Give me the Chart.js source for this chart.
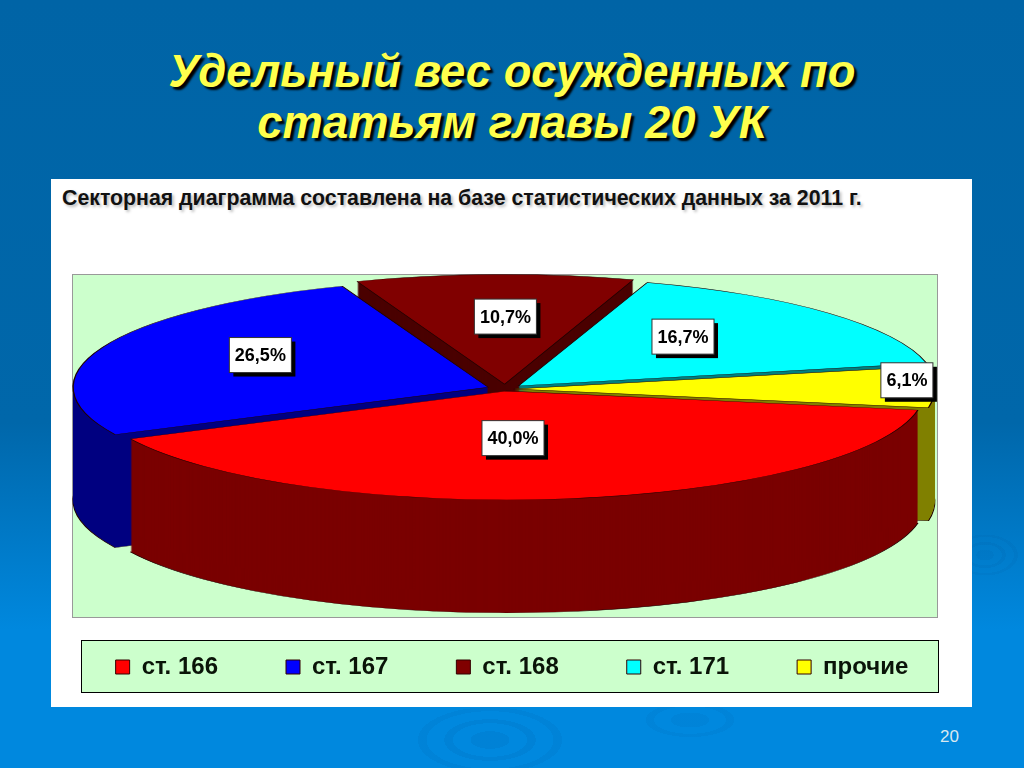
<!DOCTYPE html>
<html>
<head>
<meta charset="utf-8">
<title>Удельный вес осужденных</title>
<script src="https://cdn.jsdelivr.net/npm/chart.js@4"></script>
<style>
html, body { margin: 0; padding: 0; }
body {
    width: 1024px; height: 768px; overflow: hidden; position: relative;
    font-family: "Liberation Sans", Arial, sans-serif;
    background:
        radial-gradient(closest-side, rgba(0,50,110,0.05) 0 22%, transparent 22% 42%, rgba(0,50,110,0.06) 42% 52%, transparent 52% 72%, rgba(0,50,110,0.05) 72% 82%, transparent 82%) 945px 530px / 80px 50px no-repeat,
        radial-gradient(closest-side, rgba(0,50,110,0.07) 0 22%, transparent 22% 42%, rgba(0,50,110,0.07) 42% 52%, transparent 52% 72%, rgba(0,50,110,0.06) 72% 82%, transparent 82%) 402px 700px / 176px 80px no-repeat,
        radial-gradient(closest-side, rgba(0,50,110,0.05) 0 30%, transparent 30% 55%, rgba(0,50,110,0.05) 55% 68%, transparent 68%) 625px 695px / 130px 50px no-repeat,
        linear-gradient(to bottom, #0064a6 0%, #0067aa 55%, #0088de 82%, #0088de 100%);
}
h1 {
    position: absolute; left: 0; top: 46px; width: 1024px; margin: 0; text-align: center;
    font-size: 45.4px; line-height: 51px; font-weight: bold; font-style: italic;
    color: #ffff4d; text-shadow: 3px 3px 2px #000;
}
#panel { position: absolute; left: 51px; top: 179px; width: 921px; height: 528px; background: #fff; }
#note {
    position: absolute; left: 62px; top: 186px; white-space: nowrap;
    font-size: 21.3px; font-weight: bold; color: #111; text-shadow: 2px 2px 3px #bbb;
}
#plot { position: absolute; left: 72px; top: 274px; width: 864px; height: 342px; background: #ccffcc; border: 1px solid #999; }
#legendBox { position: absolute; left: 81px; top: 640px; width: 856px; height: 51px; background: #ccffcc; border: 1px solid #000; }
#page { position: absolute; left: 940px; top: 727px; font-size: 17px; color: #d8e8f0; }
#chartWrap { position: absolute; left: 0; top: 0; width: 1024px; height: 768px; }
</style>
</head>
<body>
<h1>Удельный вес осужденных по<br>статьям главы 20 УК</h1>
<div id="panel"></div>
<div id="note">Секторная диаграмма составлена на базе статистических данных за 2011 г.</div>
<div id="plot"></div>
<div id="legendBox"></div>
<div id="page">20</div>
<div id="chartWrap"><canvas id="myChart"></canvas></div>

<script>
var categories = ['ст. 166', 'ст. 167', 'ст. 168', 'ст. 171', 'прочие'];
var shares = [40.0, 26.5, 10.7, 16.7, 6.1];

var topColors = ['#ff0000', '#0000ff', '#800000', '#00ffff', '#ffff00'];
var sideColors = ['#7a0000', '#000080', '#4a0000', '#007f7f', '#808000'];
var sliceOffsets = [14, 32, 32, 32, 16];

// painter's order, back slices first
var drawOrder = [2, 3, 1, 4, 0];
// how far along the radius each value box sits, then a small nudge in px
var labelReach = [0.45, 0.65, 0.68, 0.6, 0.93];
var labelNudgeX = [-18, 6, 7, -7, 16];
var labelNudgeY = [1, -8, 1, -9, -7];

var pieX = 505, pieY = 389;
var pieA = 415, pieB = 108, pieDepth = 113;

function useTransform(ctx, arc, dy) {
    ctx.translate(pieX, pieY + dy);
    ctx.scale(pieA / arc.outerRadius, pieB / arc.outerRadius);
    ctx.translate(-arc.x, -arc.y);
}

function drawSlice(ctx, arc, fill, stroke, dy) {
    var o = arc.options;
    var saved = arc.options;
    arc.options = {
        backgroundColor: fill,
        borderColor: stroke,
        borderWidth: stroke ? 0.6 : 0,
        borderAlign: 'center',
        borderJoinStyle: 'round',
        borderRadius: 0,
        spacing: 0,
        offset: o.offset,
        circular: true
    };
    ctx.save();
    useTransform(ctx, arc, dy);
    arc.draw(ctx);
    ctx.restore();
    arc.options = saved;
}

var pie3d = {
    id: 'pie3d',
    beforeDatasetDraw: function (chart, args) {
        var ctx = chart.ctx;
        var arcs = args.meta.data;
        drawOrder.forEach(function (i) {
            var arc = arcs[i];
            drawSlice(ctx, arc, sideColors[i], '#200000', pieDepth);
            for (var d = pieDepth - 1; d > 0; d--) {
                drawSlice(ctx, arc, sideColors[i], null, d);
            }
            drawSlice(ctx, arc, topColors[i], '#200000', 0);
        });
        return false;
    },
    afterDatasetsDraw: function (chart) {
        var ctx = chart.ctx;
        var arcs = chart.getDatasetMeta(0).data;
        ctx.save();
        ctx.font = 'bold 18px "Liberation Sans", Arial, sans-serif';
        ctx.textAlign = 'center';
        ctx.textBaseline = 'middle';
        arcs.forEach(function (arc, i) {
            var mid = (arc.startAngle + arc.endAngle) / 2;
            var x = pieX + Math.cos(mid) * pieA * labelReach[i] + labelNudgeX[i];
            var y = pieY + Math.sin(mid) * pieB * labelReach[i] + labelNudgeY[i];
            var text = shares[i].toFixed(1).replace('.', ',') + '%';
            var w = ctx.measureText(text).width + 11, h = 35;
            ctx.fillStyle = '#000';
            ctx.fillRect(x - w / 2 + 4, y - h / 2 + 4, w, h);
            ctx.fillStyle = '#fff';
            ctx.fillRect(x - w / 2, y - h / 2, w, h);
            ctx.strokeStyle = '#333';
            ctx.lineWidth = 1;
            ctx.strokeRect(x - w / 2, y - h / 2, w, h);
            ctx.fillStyle = '#000';
            ctx.fillText(text, x, y + 1);
        });
        ctx.restore();
    }
};

var myChart = new Chart(document.getElementById('myChart').getContext('2d'), {
    type: 'pie',
    data: {
        labels: categories,
        datasets: [{
            data: shares,
            backgroundColor: topColors,
            borderColor: '#330000',
            borderWidth: 1,
            offset: sliceOffsets
        }]
    },
    options: {
        responsive: true,
        maintainAspectRatio: false,
        animation: false,
        events: [],
        rotation: 100,
        layout: { padding: { top: 187, bottom: 79 } },
        plugins: {
            tooltip: { enabled: false },
            legend: {
                position: 'bottom',
                labels: {
                    color: '#0a1408',
                    boxWidth: 14,
                    boxHeight: 14,
                    padding: 68,
                    font: { family: '"Liberation Sans", Arial, sans-serif', size: 24, weight: 'bold' }
                }
            }
        }
    },
    plugins: [pie3d]
});
</script>
</body>
</html>
